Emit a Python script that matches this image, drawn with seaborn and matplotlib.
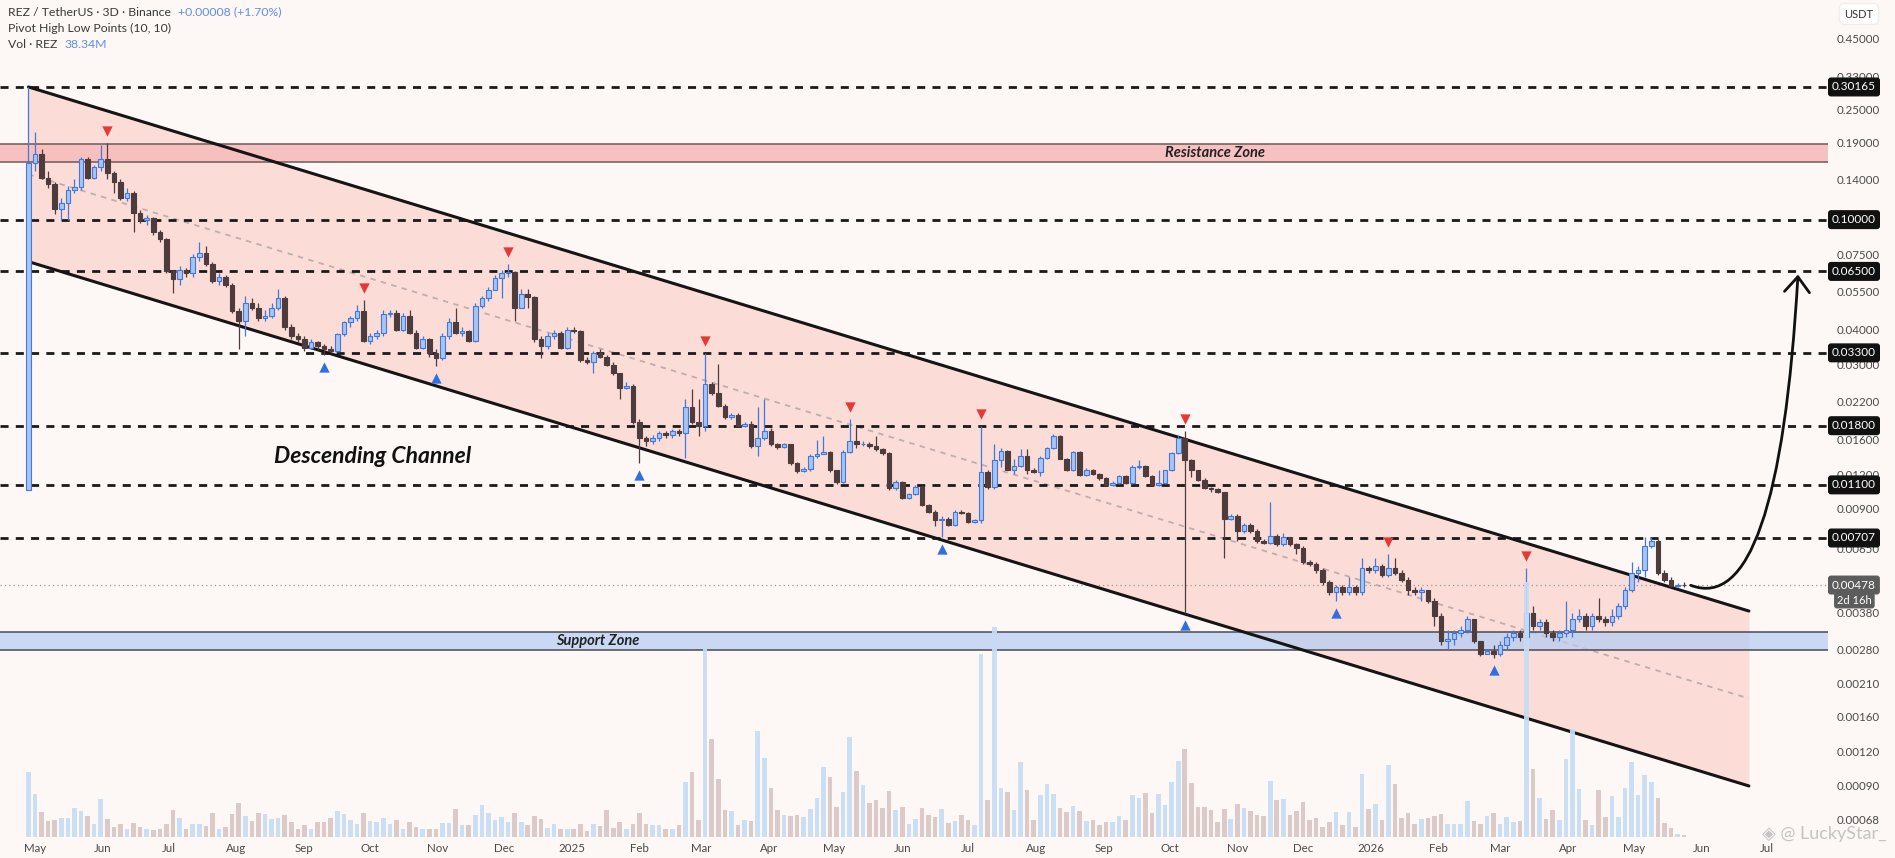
import numpy as np
import pandas as pd
import matplotlib
matplotlib.use("Agg")
import matplotlib.pyplot as plt
import matplotlib.dates as mdates
from matplotlib.path import Path
from matplotlib.patches import FancyArrowPatch
from matplotlib.ticker import FixedLocator, NullLocator, FuncFormatter
import seaborn as sns

# ---------------- data ----------------
start_date = "2024-04-28"          # first 3D candle
candle_step_days = 3
first_open = 0.0105

closes = [
    0.160, 0.173, 0.142, 0.135, 0.109, 0.115, 0.128, 0.131, 0.165, 0.142,
    0.155, 0.165, 0.148, 0.137, 0.120, 0.125, 0.106, 0.100, 0.101, 0.090,
    0.085, 0.065, 0.061, 0.066, 0.064, 0.073, 0.076, 0.069, 0.060, 0.062,
    0.058, 0.0466, 0.043, 0.050, 0.048, 0.044, 0.045, 0.048, 0.052, 0.041,
    0.038, 0.037, 0.0345, 0.036, 0.035, 0.034, 0.0335, 0.0385, 0.0425, 0.044,
    0.0467, 0.0364, 0.038, 0.039, 0.0455, 0.046, 0.040, 0.0448, 0.039, 0.0345,
    0.037, 0.033, 0.0315, 0.038, 0.0425, 0.039, 0.0395, 0.0365, 0.0487, 0.0521,
    0.0559, 0.0616, 0.0642, 0.0645, 0.048, 0.054, 0.0525, 0.037, 0.035, 0.038,
    0.039, 0.0345, 0.040, 0.0395, 0.031, 0.0305, 0.033, 0.032, 0.0298, 0.028,
    0.0246, 0.025, 0.0186, 0.0163, 0.0158, 0.0162, 0.017, 0.0166, 0.0172, 0.017,
    0.021, 0.0185, 0.018, 0.0255, 0.0237, 0.0212, 0.0193, 0.0196, 0.018, 0.0183,
    0.0152, 0.0163, 0.0172, 0.0154, 0.0151, 0.0154, 0.0132, 0.0123, 0.0126, 0.014,
    0.0142, 0.0145, 0.0124, 0.0113, 0.0145, 0.0158, 0.0154, 0.0155, 0.0152, 0.0148,
    0.0143, 0.0107, 0.0113, 0.0099, 0.0102, 0.0108, 0.0093, 0.0088, 0.0082, 0.0083,
    0.0079, 0.0088, 0.0087, 0.0081, 0.0082, 0.0122, 0.0108, 0.0135, 0.0146, 0.0125,
    0.0129, 0.014, 0.0124, 0.0122, 0.0138, 0.0149, 0.0165, 0.0137, 0.0124, 0.0145,
    0.0119, 0.0125, 0.012, 0.0116, 0.011, 0.0112, 0.0118, 0.0112, 0.0128, 0.0129,
    0.0118, 0.011, 0.0112, 0.0124, 0.0143, 0.0162, 0.0135, 0.0124, 0.0115, 0.0107,
    0.0106, 0.0104, 0.0083, 0.0085, 0.0075, 0.0079, 0.0075, 0.0069, 0.0068, 0.0072,
    0.0067, 0.0071, 0.0067, 0.0065, 0.0058, 0.0057, 0.0054, 0.0049, 0.0045, 0.0047,
    0.0045, 0.0047, 0.0045, 0.0055, 0.0054, 0.0056, 0.0052, 0.0055, 0.0053, 0.0050,
    0.0046, 0.0045, 0.0046, 0.0042, 0.0037, 0.0030, 0.00305, 0.0032, 0.0033, 0.0036,
    0.0030, 0.0027, 0.00275, 0.0027, 0.0029, 0.0031, 0.0032, 0.0031, 0.0038, 0.0034,
    0.0035, 0.0032, 0.0031, 0.0032, 0.0033, 0.0036, 0.0037, 0.0034, 0.0037, 0.0036,
    0.0035, 0.0037, 0.0040, 0.0046, 0.0053, 0.0054, 0.0066, 0.0069, 0.0053, 0.0050,
    0.00475, 0.0048, 0.00478,
]

highs = [
    0.302, 0.208, 0.180, 0.150, 0.137, 0.120, 0.132, 0.140, 0.168, 0.168,
    0.158, 0.186, 0.190, 0.150, 0.140, 0.130, 0.127, 0.108, 0.104, 0.102,
    0.092, 0.086, 0.066, 0.068, 0.067, 0.075, 0.083, 0.080, 0.070, 0.064,
    0.063, 0.059, 0.048, 0.053, 0.052, 0.050, 0.047, 0.050, 0.056, 0.053,
    0.042, 0.039, 0.038, 0.037, 0.0365, 0.0355, 0.035, 0.039, 0.043, 0.045,
    0.049, 0.0514, 0.039, 0.040, 0.047, 0.047, 0.047, 0.046, 0.047, 0.040,
    0.038, 0.0375, 0.034, 0.039, 0.044, 0.048, 0.041, 0.040, 0.050, 0.053,
    0.057, 0.063, 0.066, 0.069, 0.065, 0.056, 0.056, 0.053, 0.038, 0.039,
    0.040, 0.0395, 0.041, 0.041, 0.040, 0.032, 0.0335, 0.034, 0.0325, 0.0305,
    0.028, 0.026, 0.0255, 0.019, 0.0165, 0.0167, 0.0172, 0.0172, 0.0175, 0.0175,
    0.0225, 0.0245, 0.0225, 0.033, 0.026, 0.030, 0.0215, 0.020, 0.020, 0.0186,
    0.0187, 0.021, 0.0225, 0.0177, 0.0156, 0.0156, 0.0155, 0.0133, 0.0128, 0.0142,
    0.016, 0.0165, 0.0146, 0.0125, 0.0147, 0.019, 0.0178, 0.0158, 0.0157, 0.0165,
    0.015, 0.0145, 0.0115, 0.0114, 0.0103, 0.011, 0.011, 0.0094, 0.0089, 0.0085,
    0.0084, 0.0089, 0.0089, 0.0088, 0.0083, 0.0179, 0.0124, 0.0155, 0.0150, 0.0147,
    0.0137, 0.0148, 0.0148, 0.0127, 0.0140, 0.0151, 0.0168, 0.0166, 0.0138, 0.0146,
    0.0146, 0.0127, 0.0126, 0.0121, 0.0117, 0.0114, 0.0119, 0.0119, 0.0130, 0.0135,
    0.0130, 0.0119, 0.0124, 0.0125, 0.0145, 0.0166, 0.0172, 0.0137, 0.0125, 0.0116,
    0.0108, 0.0107, 0.0104, 0.0086, 0.0086, 0.0080, 0.0080, 0.0076, 0.0070, 0.0095,
    0.0073, 0.0074, 0.0071, 0.0068, 0.0066, 0.0059, 0.0058, 0.0055, 0.0050, 0.0048,
    0.0048, 0.0051, 0.0048, 0.0060, 0.0056, 0.0060, 0.0057, 0.0062, 0.0060, 0.0054,
    0.0051, 0.0047, 0.0047, 0.0046, 0.0043, 0.0038, 0.0033, 0.0033, 0.0034, 0.0037,
    0.0036, 0.0030, 0.0028, 0.0029, 0.0030, 0.0032, 0.0033, 0.0033, 0.0055, 0.0040,
    0.0036, 0.0036, 0.0033, 0.0033, 0.0042, 0.0038, 0.0039, 0.0038, 0.0038, 0.0043,
    0.0037, 0.0039, 0.0041, 0.0047, 0.0058, 0.0056, 0.0071, 0.0071, 0.0070, 0.0054,
    0.0051, 0.00485, 0.0049,
]

lows = [
    0.0105, 0.150, 0.140, 0.130, 0.105, 0.100, 0.100, 0.125, 0.128, 0.140,
    0.140, 0.150, 0.140, 0.125, 0.118, 0.117, 0.090, 0.097, 0.096, 0.088,
    0.083, 0.064, 0.0545, 0.058, 0.062, 0.062, 0.071, 0.068, 0.059, 0.058,
    0.057, 0.046, 0.034, 0.038, 0.047, 0.043, 0.043, 0.044, 0.047, 0.040,
    0.037, 0.036, 0.0335, 0.034, 0.0338, 0.0325, 0.033, 0.0332, 0.038, 0.041,
    0.043, 0.036, 0.0355, 0.037, 0.038, 0.0445, 0.0395, 0.0395, 0.0385, 0.034,
    0.034, 0.032, 0.0295, 0.031, 0.037, 0.0385, 0.038, 0.036, 0.036, 0.048,
    0.051, 0.0555, 0.052, 0.062, 0.043, 0.048, 0.048, 0.036, 0.0315, 0.034,
    0.037, 0.034, 0.034, 0.039, 0.0305, 0.030, 0.028, 0.0315, 0.0295, 0.0275,
    0.0225, 0.0245, 0.0183, 0.0132, 0.0152, 0.0155, 0.0158, 0.0162, 0.0162, 0.0165,
    0.0138, 0.0183, 0.0165, 0.0172, 0.0232, 0.021, 0.019, 0.019, 0.0178, 0.0178,
    0.015, 0.014, 0.016, 0.0152, 0.0148, 0.015, 0.013, 0.0121, 0.0122, 0.0123,
    0.0138, 0.0142, 0.0122, 0.0111, 0.0112, 0.0143, 0.015, 0.0152, 0.015, 0.0146,
    0.0141, 0.0105, 0.0105, 0.0098, 0.0098, 0.0101, 0.0092, 0.0087, 0.0078, 0.0071,
    0.0078, 0.0078, 0.0086, 0.0080, 0.0080, 0.0080, 0.0106, 0.0106, 0.0128, 0.0124,
    0.0120, 0.0128, 0.0120, 0.0121, 0.0118, 0.0137, 0.0148, 0.0136, 0.0123, 0.0123,
    0.0118, 0.0118, 0.0119, 0.0115, 0.0109, 0.0109, 0.0111, 0.0111, 0.0111, 0.0126,
    0.0117, 0.0109, 0.0109, 0.0111, 0.0123, 0.0142, 0.0038, 0.0117, 0.0114, 0.0106,
    0.0104, 0.0103, 0.0060, 0.0082, 0.0069, 0.0074, 0.0074, 0.0068, 0.0067, 0.0067,
    0.0066, 0.0066, 0.0066, 0.0062, 0.0057, 0.0056, 0.0053, 0.0048, 0.0044, 0.0042,
    0.0044, 0.0044, 0.0044, 0.0044, 0.0053, 0.0053, 0.0051, 0.0051, 0.0052, 0.0049,
    0.0044, 0.0044, 0.0042, 0.0041, 0.0034, 0.0029, 0.0028, 0.0029, 0.0031, 0.0032,
    0.00295, 0.00265, 0.0027, 0.0026, 0.00265, 0.0028, 0.0030, 0.0030, 0.0030, 0.0033,
    0.0033, 0.0031, 0.0030, 0.0030, 0.0031, 0.0031, 0.0035, 0.0033, 0.0033, 0.0035,
    0.0034, 0.0034, 0.0036, 0.0039, 0.0045, 0.0049, 0.0051, 0.0065, 0.0052, 0.0049,
    0.0047, 0.0047, 0.0047,
]

volumes = [  # millions REZ per 3D candle (relative heights)
    65, 43, 25, 16, 17, 19, 19, 29, 26, 21,
    13, 38, 18, 10, 13, 8, 14, 10, 8, 7,
    8, 13, 27, 19, 8, 13, 13, 11, 24, 8,
    10, 23, 34, 21, 16, 24, 23, 18, 19, 22,
    15, 8, 12, 8, 15, 15, 19, 26, 23, 17,
    13, 24, 16, 15, 19, 13, 17, 8, 15, 10,
    8, 8, 8, 14, 14, 28, 12, 12, 22, 32,
    24, 17, 20, 15, 24, 15, 12, 21, 18, 9,
    13, 8, 8, 8, 13, 6, 13, 11, 27, 9,
    15, 8, 13, 24, 13, 12, 12, 8, 8, 12,
    55, 65, 17, 196, 98, 58, 27, 26, 12, 17,
    16, 106, 79, 49, 27, 22, 21, 22, 20, 28,
    39, 70, 60, 30, 45, 100, 66, 52, 34, 37,
    29, 46, 27, 30, 13, 18, 29, 22, 20, 28,
    14, 16, 22, 17, 12, 183, 37, 210, 49, 45,
    27, 75, 47, 17, 42, 53, 43, 29, 25, 31,
    26, 16, 17, 12, 15, 15, 21, 17, 42, 39,
    44, 24, 43, 32, 55, 76, 88, 54, 30, 30,
    27, 15, 28, 18, 33, 29, 26, 22, 21, 56,
    37, 38, 22, 26, 35, 17, 19, 10, 15, 25,
    12, 25, 10, 63, 28, 33, 17, 72, 53, 19,
    24, 13, 18, 19, 21, 23, 13, 13, 13, 36,
    16, 13, 21, 24, 13, 20, 15, 16, 255, 68,
    39, 18, 27, 17, 78, 108, 48, 17, 12, 47,
    20, 41, 20, 49, 75, 42, 62, 55, 39, 14,
    9, 3, 2,
]

pivot_high_idx = [12, 51, 73, 103, 125, 145, 176, 207, 228]
pivot_low_idx = [45, 62, 93, 139, 176, 199, 223]

level_prices = [0.30165, 0.10, 0.065, 0.033, 0.018, 0.011, 0.00707]
level_labels = ["0.30165", "0.10000", "0.06500", "0.03300", "0.01800", "0.01100", "0.00707"]
last_price = 0.00478
last_label = "0.00478"
countdown_label = "2d 16h"

resistance_zone = [0.161, 0.188]
support_zone = [0.00279, 0.00323]

channel_dates = ["2024-04-28 00:00", "2026-06-22 14:00"]
channel_upper = [0.30165, 0.00385]
channel_lower = [0.0705, 0.000898]

price_ticks = [0.45, 0.33, 0.25, 0.19, 0.14, 0.075, 0.055, 0.04, 0.03, 0.022,
               0.016, 0.012, 0.009, 0.0065, 0.0038, 0.0028, 0.0021, 0.0016, 0.0012,
               0.0009, 0.00068]

# ---------------- style ----------------
sns.set_theme(style="white")
plt.rcParams["font.family"] = ["Lato", "DejaVu Sans"]
BG = "#fdf7f5"
UP_EDGE, UP_FILL = "#3f79dc", "#a9c4ef"
DN = "#4e3b3b"
VOL_UP, VOL_DN = "#c6dcf4", "#d9c7c3"
TXT = "#4a4a4a"


def dnum(s):
    return mdates.date2num(pd.Timestamp(s).to_pydatetime())


n = min(len(closes), len(highs), len(lows), len(volumes))
closes = np.array(closes[:n]); highs = np.array(highs[:n]); lows = np.array(lows[:n])
vols = np.array(volumes[:n], dtype=float)
opens = np.concatenate([[first_open], closes[:-1]])
dates = pd.date_range(start_date, periods=n, freq=f"{candle_step_days}D")
xd = mdates.date2num(dates.to_pydatetime())
up = closes >= opens

W, H = 1895, 858
fig = plt.figure(figsize=(W / 100, H / 100), dpi=100, facecolor=BG)
ax = fig.add_axes([0, 17 / H, 1828 / W, 841 / H])
ax.set_facecolor(BG)
ax.set_yscale("log")
x0 = dnum("2024-05-01")
ax.set_xlim(x0 - 16.0, x0 + 818.7)
ax.set_ylim(0.000568, 0.622)

# volume overlay axis (created first so the price axis keeps its right-hand ticks)
ax2 = ax.twinx()

# channel
cx = np.array([dnum(s) for s in channel_dates])
cu = np.array(channel_upper); cl = np.array(channel_lower)
ax.fill_between(cx, cl, cu, color="#fbdcd7", lw=0, zorder=1)
mid = np.sqrt(cu * cl)
ch_df = pd.DataFrame({"x": np.concatenate([cx, cx]),
                      "y": np.concatenate([cu, cl]),
                      "line": ["upper"] * 2 + ["lower"] * 2})
sns.lineplot(data=ch_df, x="x", y="y", units="line", estimator=None, color="#151515",
             lw=2.2, ax=ax, legend=False, zorder=6)
ax.plot(cx, mid, color="#bfaeae", lw=1.3, dashes=(3, 3), zorder=2)
ax.set_xlabel(""); ax.set_ylabel("")

# zones
ax.axhspan(resistance_zone[0], resistance_zone[1], color="#f7bcbc", alpha=0.9, lw=0, zorder=2)
for v in resistance_zone:
    ax.axhline(v, color="#6e5a5a", lw=1.1, zorder=3)
ax.axhspan(support_zone[0], support_zone[1], color="#b5cdf3", alpha=0.72, lw=0, zorder=2)
for v in support_zone:
    ax.axhline(v, color="#4a4a55", lw=1.1, zorder=3)

# key levels
for v in level_prices:
    ax.axhline(v, color="#1a1a1a", lw=2.0, dashes=(2.9, 2.6), zorder=4)
ax.axhline(last_price, color="#9a9a9a", lw=0.9, dashes=(1, 2.5), zorder=4)

# candles
wick_colors = np.where(up, UP_EDGE, DN)
ax.vlines(xd, lows, highs, colors=wick_colors, lw=0.9, zorder=7)
body_lo = np.minimum(opens, closes)
body_h = np.abs(closes - opens)
ax.bar(xd[up], body_h[up], bottom=body_lo[up], width=2.1, color=UP_FILL,
       edgecolor=UP_EDGE, linewidth=0.8, zorder=8)
ax.bar(xd[~up], body_h[~up], bottom=body_lo[~up], width=2.1, color=DN,
       edgecolor=DN, linewidth=0.8, zorder=8)

# pivots
ph = np.array(pivot_high_idx); pl = np.array(pivot_low_idx)
sns.scatterplot(x=xd[ph], y=highs[ph] * 1.105, marker="v", color="#e53935", s=55,
                linewidth=0, ax=ax, zorder=9)
sns.scatterplot(x=xd[pl], y=lows[pl] / 1.105, marker="^", color="#2f6fe0", s=55,
                linewidth=0, ax=ax, zorder=9)

# texts on chart
ax.text(dnum("2024-10-02"), 0.0139,
        "Descending Channel", fontsize=16.5, fontweight="bold", fontstyle="italic",
        color="#111111", ha="center", va="center", zorder=10)
ax.text(dnum("2025-10-22"),
        np.sqrt(resistance_zone[0] * resistance_zone[1]), "Resistance Zone",
        fontsize=10.5, fontweight="bold", fontstyle="italic", color="#222222",
        ha="center", va="center", zorder=10)
ax.text(dnum("2025-01-13"),
        np.sqrt(support_zone[0] * support_zone[1]), "Support Zone",
        fontsize=10.5, fontweight="bold", fontstyle="italic", color="#222222",
        ha="center", va="center", zorder=10)

# projected move arrow (quadratic curve)
verts = [(dnum("2026-05-27"), 0.00477), (dnum("2026-07-06"), 0.0036),
         (dnum("2026-07-15"), 0.0633)]
arrow = FancyArrowPatch(path=Path(verts, [Path.MOVETO, Path.CURVE3, Path.CURVE3]),
                        arrowstyle="->,head_length=0.55,head_width=0.45",
                        mutation_scale=20, color="#111111", lw=2.0, zorder=11)
ax.add_patch(arrow)

# ---------------- axes / ticks ----------------
for s in ax.spines.values():
    s.set_visible(False)
ax.yaxis.tick_right()
ax.yaxis.set_label_position("right")
ax.yaxis.set_major_locator(FixedLocator(price_ticks))
ax.yaxis.set_minor_locator(NullLocator())
ax.yaxis.set_major_formatter(FuncFormatter(lambda v, p: f"{v:.5f}"))
ax.tick_params(axis="y", which="both", left=False, labelleft=False, right=True,
               labelright=True, length=0, pad=6.5, labelsize=8.3, labelcolor=TXT)
ax.xaxis.set_major_locator(mdates.MonthLocator())
ax.xaxis.set_major_formatter(FuncFormatter(
    lambda v, p: (str(mdates.num2date(v).year) if mdates.num2date(v).month == 1
                  else mdates.num2date(v).strftime("%b"))))
ax.tick_params(axis="x", length=0, pad=1.5, labelsize=8.3, labelcolor=TXT)
ax.grid(False)

# level boxes on price scale
for v, lab in zip(level_prices, level_labels):
    ax.annotate(lab, xy=(1, v), xycoords=("axes fraction", "data"), xytext=(4, 0),
                textcoords="offset pixels", ha="left", va="center", color="white",
                fontsize=8.5, annotation_clip=False, zorder=20,
                bbox=dict(boxstyle="round,pad=0.28,rounding_size=0.2", fc="#111111", ec="#111111"))
ax.annotate(last_label, xy=(1, last_price), xycoords=("axes fraction", "data"), xytext=(4, 0),
            textcoords="offset pixels", ha="left", va="center", color="white",
            fontsize=8.5, annotation_clip=False, zorder=20,
            bbox=dict(boxstyle="round,pad=0.28,rounding_size=0.2", fc="#5c5c5c", ec="#5c5c5c"))
ax.annotate(countdown_label, xy=(1, last_price), xycoords=("axes fraction", "data"), xytext=(9, -15),
            textcoords="offset pixels", ha="left", va="center", color="white",
            fontsize=8, annotation_clip=False, zorder=19,
            bbox=dict(boxstyle="round,pad=0.2,rounding_size=0.2", fc="#5c5c5c", ec="#5c5c5c"))

# volume bars
ax2.set_ylim(-4, 837)
ax2.bar(xd, vols, width=2.1, color=np.where(up, VOL_UP, VOL_DN), alpha=0.92, lw=0)
ax2.yaxis.set_visible(False)
ax2.patch.set_visible(False)
for s in ax2.spines.values():
    s.set_visible(False)
ax2.set_xlim(ax.get_xlim())

# header
t1 = fig.text(8 / W, 1 - 12 / H, "REZ / TetherUS · 3D · Binance", fontsize=8.8,
              color="#3a3a3a", va="center", ha="left")
ax.annotate("+0.00008 (+1.70%)", xy=(1, 0.5), xycoords=t1, xytext=(7, 0),
            textcoords="offset pixels", va="center", ha="left", fontsize=8.8,
            color="#5e8fe6", annotation_clip=False)
fig.text(8 / W, 1 - 28 / H, "Pivot High Low Points (10, 10)", fontsize=8.8,
         color="#3a3a3a", va="center", ha="left")
t3 = fig.text(8 / W, 1 - 44 / H, "Vol · REZ", fontsize=8.8, color="#3a3a3a",
              va="center", ha="left")
ax.annotate("38.34M", xy=(1, 0.5), xycoords=t3, xytext=(7, 0), textcoords="offset pixels",
            va="center", ha="left", fontsize=8.8, color="#5e8fe6", annotation_clip=False)
fig.text(1859 / W, 1 - 14 / H, "USDT", fontsize=8, color="#333333", ha="center", va="center",
         bbox=dict(boxstyle="round,pad=0.45", fc="white", ec="#eeeeee"))

# watermark
fig.text(1886 / W, 1 - 834 / H, "◈ @ LuckyStar_", fontsize=13, color="#c4c4c4",
         ha="right", va="center", family=["Lato", "DejaVu Sans"], zorder=30)

fig.savefig("out.png", dpi=100, facecolor=BG)
